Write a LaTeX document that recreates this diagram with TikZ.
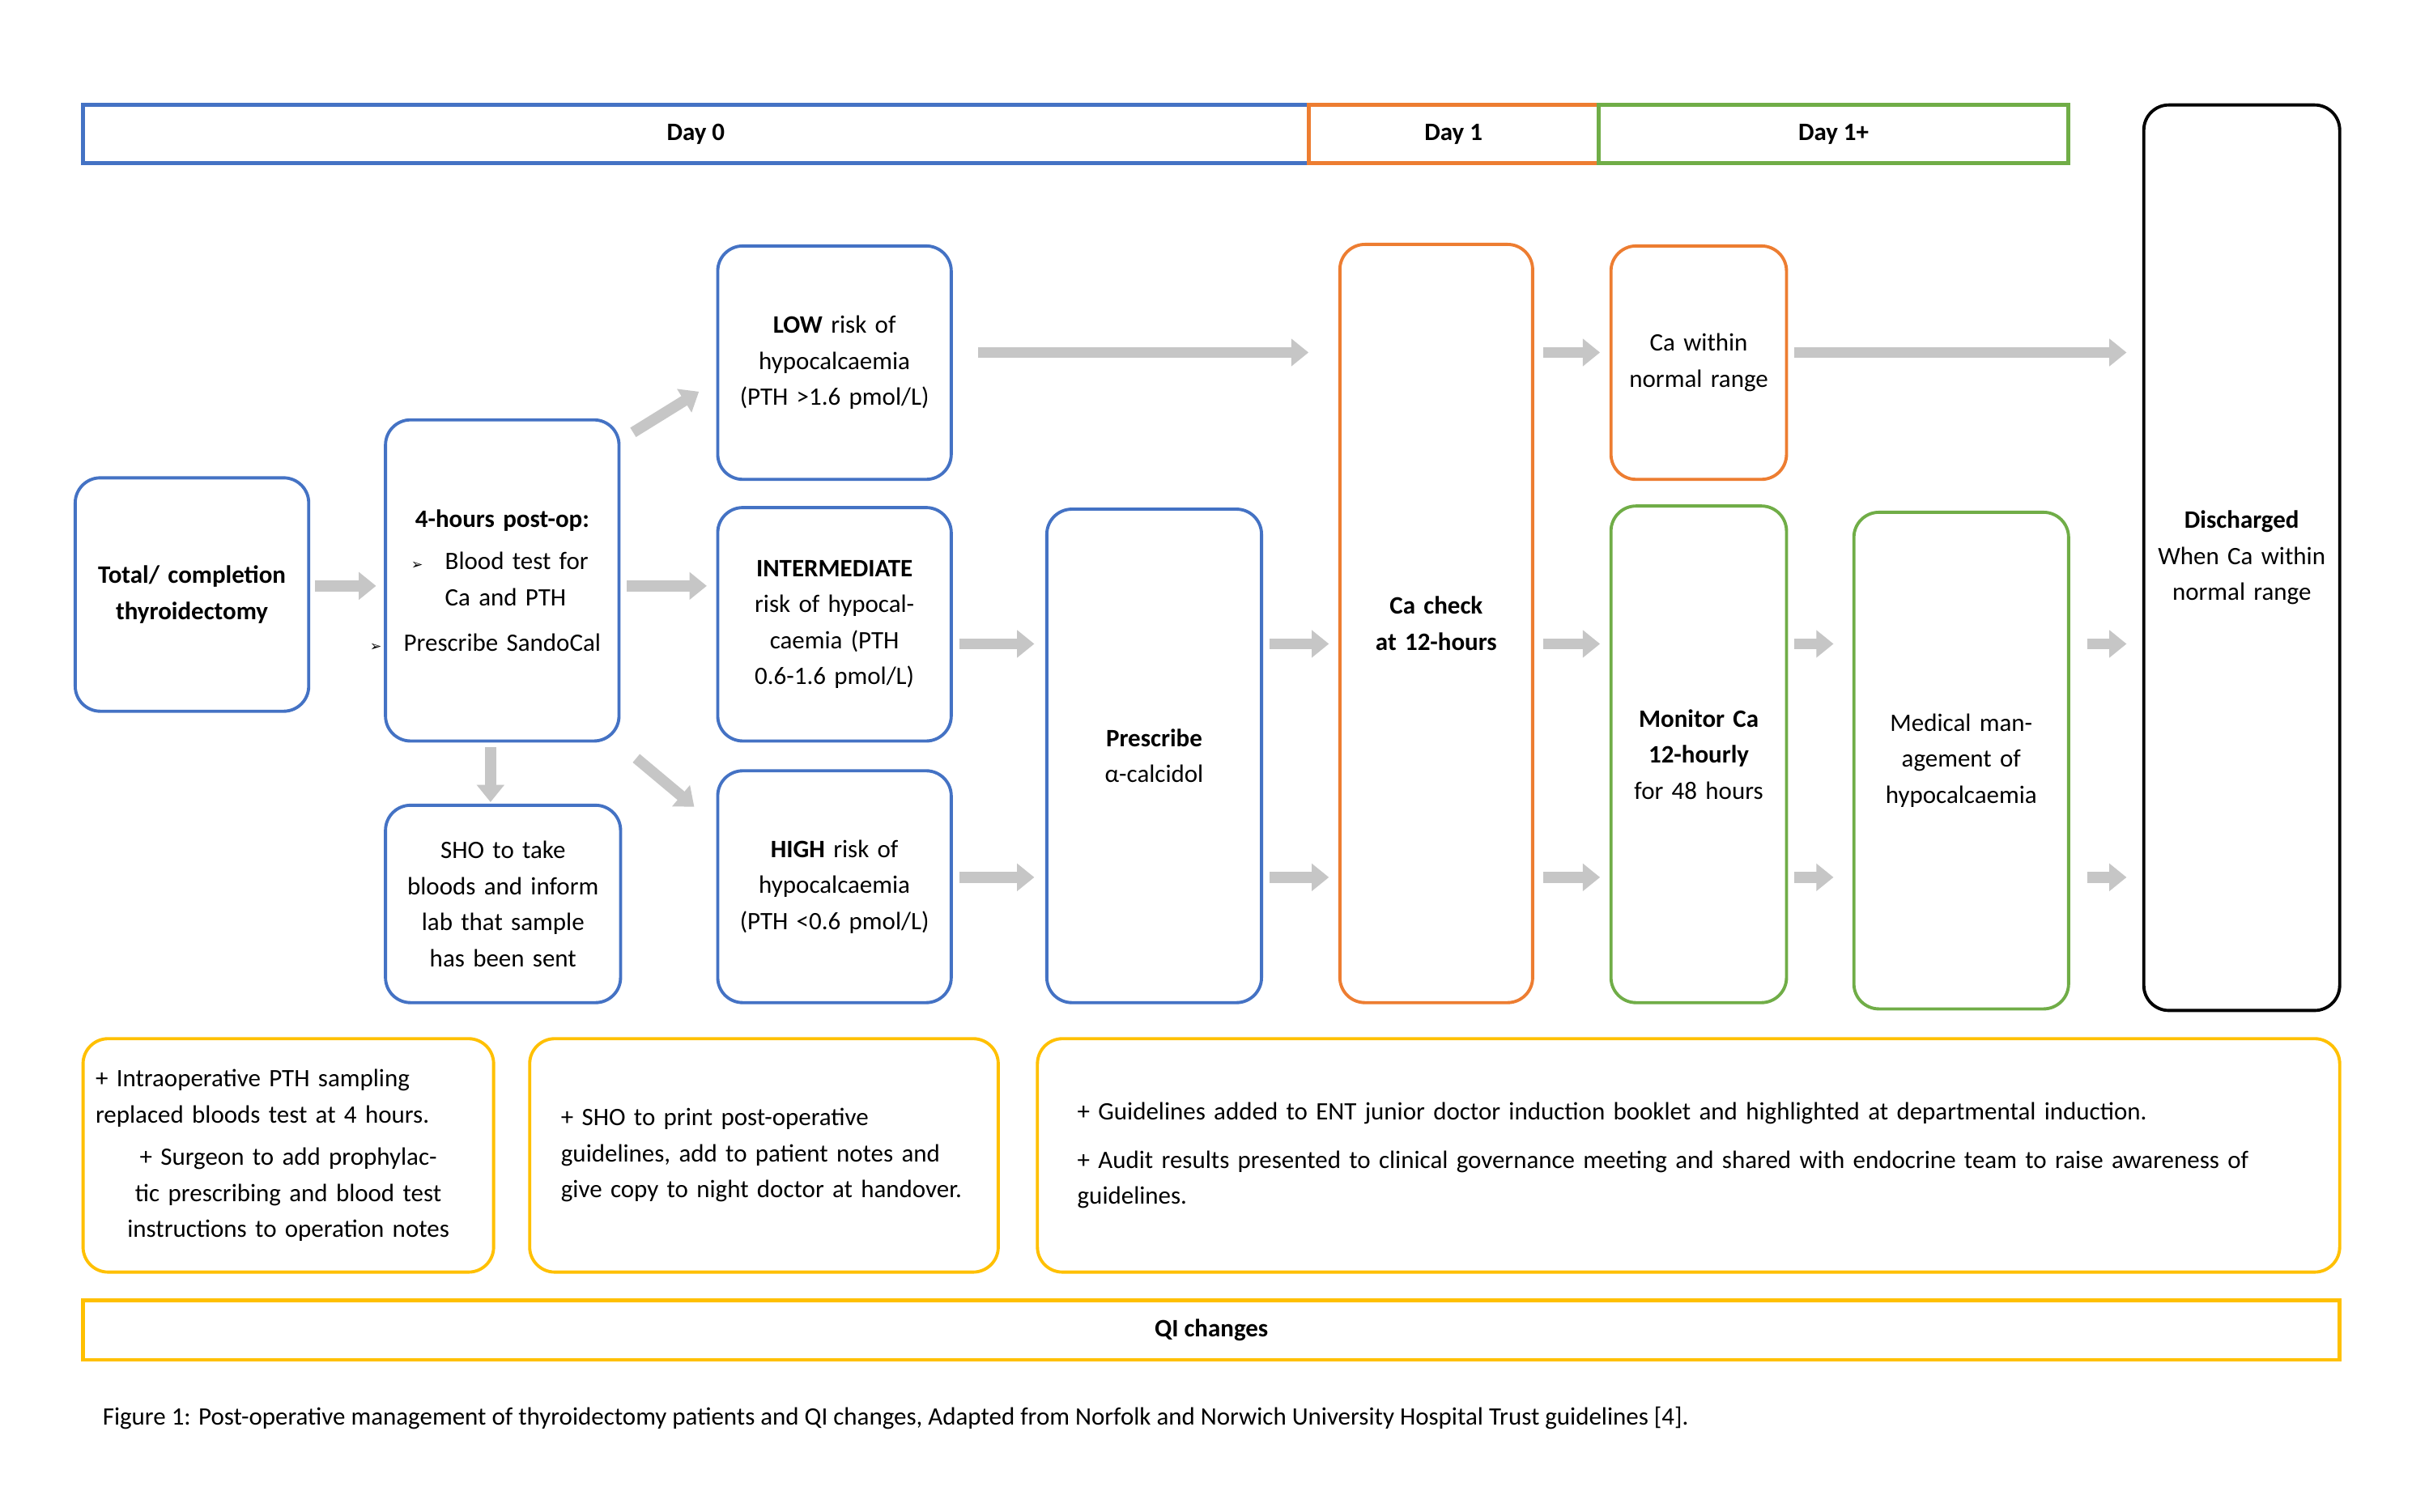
\documentclass[tikz,border=0pt]{standalone}
\usepackage{fontspec}
\setmainfont{Carlito}
\newfontfamily\djfont{DejaVu Sans}
\usetikzlibrary{arrows.meta}
\definecolor{cblue}{HTML}{4472C4}
\definecolor{corange}{HTML}{ED7D31}
\definecolor{cgreen}{HTML}{70AD47}
\definecolor{cyel}{HTML}{FFC000}
\begin{document}
\begin{tikzpicture}[x=1pt,y=-1pt,
 bx/.style={draw=#1,line width=2pt,rounded corners=16pt,align=center,font=\fontsize{16}{23}\selectfont},
 bar/.style={draw=#1,line width=2.5pt,font=\bfseries\fontsize{16}{20}\selectfont},
 ar/.style={line width=7pt,draw=gray!45,-{Triangle[length=11pt,width=17pt]}}]
\useasboundingbox[fill=white] (0,0) rectangle (1550,965);
\newcommand\bxat[5]{\node[bx=#1,minimum width={#4-#2},minimum height={#5-#3},text width={#4-#2-16}] at ({(#2+#4)/2},{(#3+#5)/2})}
\node[bar=cblue,minimum width=782,minimum height=37] (d0) at (444,85.5) {Day 0};
\node[bar=corange,minimum width=185,minimum height=37] (d1) at (927.5,85.5) {Day 1};
\node[bar=cgreen,minimum width=300,minimum height=37] (d2) at (1170,85.5) {Day 1+};
\bxat{black}{1368}{67}{1493}{645} (dis) {\textbf{Discharged}\\When Ca within normal range\\[40pt]};
\bxat{cblue}{48}{305}{197}{454} (tot) {\textbf{Total/ completion thyroidectomy}};
\bxat{cblue}{246}{268}{395}{473} (four) {\textbf{4-hours post-op:}\\[4pt]
 \raggedright\hangindent=30pt\hangafter=0\noindent\llap{\djfont\small➢\hspace{14pt}}Blood test for Ca and PTH\\[6pt]
 \hangindent=30pt\hangafter=0\noindent\llap{\djfont\small➢\hspace{14pt}}Prescribe SandoCal};
\bxat{cblue}{246}{514}{396}{640} (sho) {SHO to take bloods and inform lab that sample has been sent};
\bxat{cblue}{458}{157}{607}{306} (low) {\textbf{LOW} risk of hypocalcaemia (PTH >1.6 pmol/L)};
\bxat{cblue}{458}{324}{607}{473} (int) {\textbf{INTERMEDIATE} risk of hypocalcaemia (PTH 0.6-1.6 pmol/L)};
\bxat{cblue}{458}{492}{607}{640} (high) {\textbf{HIGH} risk of hypocalcaemia (PTH <0.6 pmol/L)};
\bxat{cblue}{668}{325}{805}{640} (pre) {\textbf{Prescribe}\\α-calcidol\\[20pt]};
\bxat{corange}{855}{156}{978}{640} (cac) {\textbf{Ca check at 12-hours}\\[70pt]};
\bxat{corange}{1028}{157}{1140}{306} (caw) {Ca within normal range};
\bxat{cgreen}{1028}{323}{1140}{640} (mon) {\textbf{Monitor Ca 12-hourly} for 48 hours\\[20pt]};
\bxat{cgreen}{1183}{327}{1320}{644} (med) {Medical management of hypocalcaemia\\[20pt]};
\bxat{cyel}{53}{663}{315}{812} (q1) {\raggedright + Intraoperative PTH sampling replaced bloods test at 4 hours.\\[4pt] + Surgeon to add prophylactic prescribing and blood test instructions to operation notes};
\bxat{cyel}{338}{663}{637}{812} (q2) {\raggedright\leftskip=12pt + SHO to print post-operative guidelines, add to patient notes and give copy to night doctor at handover.\\[22pt]};
\node[bx=cyel,minimum width=831,minimum height=149,text width=780,align=left] (q3) at (1077.5,737.5) {+ Guidelines added to ENT junior doctor induction booklet and highlighted at departmental induction.\\[8pt] + Audit results presented to clinical governance meeting and shared with endocrine team to raise awareness of guidelines.\\[12pt]};
\node[bar=cyel,minimum width=1440,minimum height=38] (qi) at (773,849) {QI changes};
\node[anchor=west,font=\fontsize{16}{20}\selectfont] (cap) at (62,905) {Figure 1: Post-operative management of thyroidectomy patients and QI changes, Adapted from Norfolk and Norwich University Hospital Trust guidelines [4].};
\foreach \a/\b/\c/\d in {201/374/240/374, 400/374/451/374, 404/276/446/250, 406/484/443/515, 313/477/313/512, 624/225/835/225, 612/411/660/411, 612/560/660/560, 810/411/848/411, 810/560/848/560, 985/225/1021/225, 985/411/1021/411, 985/560/1021/560, 1145/225/1357/225, 1145/411/1170/411, 1145/560/1170/560, 1332/411/1357/411, 1332/560/1357/560}
 \draw[ar] (\a,\b) -- (\c,\d);
\end{tikzpicture}
\end{document}
